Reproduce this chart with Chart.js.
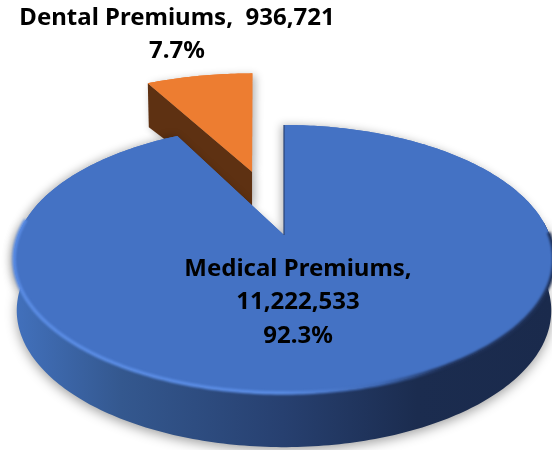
<!DOCTYPE html>
<html>
<head>
<meta charset="utf-8">
<style>
    html, body { margin: 0; padding: 0; background: #fff; }
    canvas { display: block; }
</style>
<script src="https://cdn.jsdelivr.net/npm/chart.js@4"></script>
</head>
<body>
<canvas id="pie" width="552" height="450"></canvas>
<script>
const categories = ['Medical Premiums', 'Dental Premiums'];
const premiums = [11222533, 936721];
const percentLabels = ['92.3%', '7.7%'];

// how the flat pie is laid over the page (perspective of the disc)
const view = { cx: 284, cy: 235, a: 129.7, b: 265.6, k: 0.179 };
const EXPLODE = 0.55;      // pulled-out slice, in disc radii
const EXPLODE_SCALE = 1.07;
const FONT = 'bold 24px "Noto Sans", sans-serif';

// disc coordinates -> page
function project(u, v) {
    const d = 1 - view.k * v;
    return { x: view.cx + view.b * u / d, y: view.cy + view.a * v / d };
}

function drop(p, depth) {
    return { x: view.cx + (p.x - view.cx) * 0.99, y: view.cy + (p.y - view.cy) * 1.02 + depth };
}

function arcPoints(start, end, r, ou, ov) {
    const pts = [];
    const steps = Math.max(8, Math.ceil(Math.abs(end - start) * 60));
    for (let i = 0; i <= steps; i++) {
        const t = start + (end - start) * i / steps;
        pts.push(project(ou + r * Math.cos(t), ov + r * Math.sin(t)));
    }
    return pts;
}

function tracePath(ctx, pts) {
    ctx.beginPath();
    pts.forEach((p, i) => i ? ctx.lineTo(p.x, p.y) : ctx.moveTo(p.x, p.y));
    ctx.closePath();
}

function drawDental(ctx, arc) {
    const mid = (arc.startAngle + arc.endAngle) / 2;
    const ou = EXPLODE * Math.cos(mid), ov = EXPLODE * Math.sin(mid);
    const apex = project(ou, ov);
    // lean the slice a little so its right edge stands upright
    const lean = p => ({ x: p.x - (apex.y - p.y) * 0.045, y: p.y });
    const rim = arcPoints(arc.startAngle, arc.endAngle, EXPLODE_SCALE, ou, ov).map(lean);
    const left = rim[0];

    // cut wall under the left edge
    const wall = [left, apex, { x: apex.x, y: apex.y + 34 }, { x: left.x + 1, y: left.y + 44 }];
    ctx.save();
    ctx.shadowColor = 'rgba(0,0,0,0.3)';
    ctx.shadowBlur = 9;
    ctx.shadowOffsetX = 3;
    ctx.shadowOffsetY = 2;
    tracePath(ctx, [apex].concat(rim));
    ctx.fillStyle = '#ed7d31';
    ctx.fill();
    tracePath(ctx, wall);
    ctx.fillStyle = '#5e3112';
    ctx.fill();
    ctx.restore();

    tracePath(ctx, [apex].concat(rim));
    ctx.fillStyle = arc.options.backgroundColor;
    ctx.fill();
}

function drawMedical(ctx, arc) {
    const depth = 51;
    const apex = project(0, 0);
    const rim = arcPoints(arc.startAngle, arc.endAngle, 1, 0, 0);
    const top = [apex].concat(rim);

    // soft shadow into the gap, the wall and the face go over it
    ctx.save();
    ctx.shadowColor = 'rgba(0,0,0,0.28)';
    ctx.shadowBlur = 9;
    ctx.shadowOffsetX = -3;
    tracePath(ctx, top);
    ctx.fillStyle = arc.options.backgroundColor;
    ctx.fill();
    ctx.restore();

    // outside wall, front half only
    const front = arcPoints(-0.1, Math.PI + 0.1, 1, 0, 0);
    const wall = front.concat(front.slice().reverse().map(p => drop(p, depth)));
    const wallFill = ctx.createLinearGradient(13, 0, 552, 0);
    wallFill.addColorStop(0, '#4271bd');
    wallFill.addColorStop(0.2, '#34588f');
    wallFill.addColorStop(0.5, '#274070');
    wallFill.addColorStop(0.75, '#1b2c4f');
    wallFill.addColorStop(1, '#1a2a4c');
    ctx.save();
    ctx.shadowColor = 'rgba(0,0,0,0.38)';
    ctx.shadowBlur = 12;
    ctx.shadowOffsetY = 3;
    tracePath(ctx, wall);
    ctx.fillStyle = wallFill;
    ctx.fill();
    ctx.restore();

    // top face
    tracePath(ctx, top);
    ctx.fillStyle = arc.options.backgroundColor;
    ctx.fill();

    // bevel along the front rim, light on the left and dark on the right
    const bevel = ctx.createLinearGradient(13, 0, 552, 0);
    bevel.addColorStop(0, '#5a8ce4');
    bevel.addColorStop(0.5, '#5a8ce4');
    bevel.addColorStop(0.68, '#3e68b4');
    bevel.addColorStop(0.8, '#1f3158');
    bevel.addColorStop(1, '#1f3158');
    const edge = arcPoints(-0.02, Math.PI + 0.12, 1, 0, 0);
    ctx.save();
    ctx.filter = 'blur(0.8px)';
    ctx.beginPath();
    edge.forEach((p, i) => i ? ctx.lineTo(p.x, p.y) : ctx.moveTo(p.x, p.y));
    ctx.strokeStyle = bevel;
    ctx.lineWidth = 3.5;
    ctx.stroke();
    ctx.restore();

    // thin dark wall on the 12 o'clock cut
    const cut = project(Math.cos(arc.startAngle), Math.sin(arc.startAngle));
    ctx.beginPath();
    ctx.moveTo(apex.x, apex.y);
    ctx.lineTo(cut.x, cut.y);
    ctx.strokeStyle = '#2b4476';
    ctx.lineWidth = 1.2;
    ctx.stroke();
}

function drawLabel(ctx, lines, x, y) {
    ctx.font = FONT;
    ctx.fillStyle = '#000';
    ctx.textAlign = 'center';
    ctx.textBaseline = 'middle';
    lines.forEach((line, i) => ctx.fillText(line, x, y + i * 33.5));
}

const pie3d = {
    id: 'pie3d',
    beforeDatasetsDraw(chart) {
        const ctx = chart.ctx;
        const arcs = chart.getDatasetMeta(0).data;
        ctx.save();
        drawDental(ctx, arcs[1]);
        drawMedical(ctx, arcs[0]);
        ctx.restore();
        return false;
    },
    afterDraw(chart) {
        const ctx = chart.ctx;
        const fmt = n => n.toLocaleString('en-US');
        ctx.save();
        drawLabel(ctx, [categories[0] + ',', fmt(premiums[0]), percentLabels[0]], 298, 269);
        drawLabel(ctx, [categories[1] + ',  ' + fmt(premiums[1]), percentLabels[1]], 177, 18);
        ctx.restore();
    }
};

new Chart(document.getElementById('pie'), {
    type: 'pie',
    data: {
        labels: categories,
        datasets: [{
            data: premiums,
            backgroundColor: ['#4472c4', '#ed7d31'],
            borderWidth: 0
        }]
    },
    options: {
        responsive: false,
        animation: false,
        plugins: {
            legend: { display: false },
            tooltip: { enabled: false }
        }
    },
    plugins: [pie3d]
});
</script>
</body>
</html>
